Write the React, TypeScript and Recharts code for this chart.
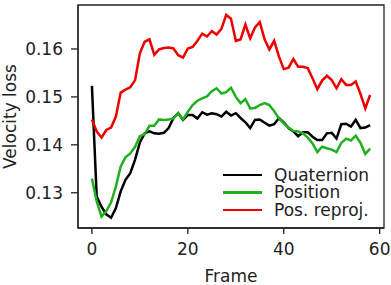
import { Line, LineChart, ReferenceArea, XAxis, YAxis } from "recharts";

const frames = Array.from({ length: 59 }, (_, i) => i);

const quaternion = [
  0.1523, 0.1292, 0.1271, 0.1255, 0.1248, 0.1268, 0.1303, 0.1327, 0.1341, 0.1369,
  0.1405, 0.1424, 0.1428, 0.1424, 0.1423, 0.1425, 0.1435, 0.1456, 0.1466, 0.1452,
  0.1462, 0.1462, 0.1455, 0.1468, 0.1463, 0.1466, 0.1464, 0.1459, 0.1469, 0.1461,
  0.1466, 0.1456, 0.1447, 0.1435, 0.1452, 0.1453, 0.1446, 0.144, 0.1443, 0.1456,
  0.1447, 0.1435, 0.1428, 0.1418, 0.1426, 0.1426, 0.1417, 0.141, 0.141, 0.1424,
  0.1425, 0.1413, 0.1443, 0.1444, 0.1438, 0.1452, 0.1435, 0.1436, 0.1441,
];

const position = [
  0.133, 0.1282, 0.125, 0.1262, 0.128, 0.1313, 0.1355, 0.1374, 0.1382, 0.1396,
  0.1418, 0.1422, 0.144, 0.144, 0.1453, 0.1452, 0.1453, 0.1455, 0.1466, 0.1453,
  0.1469, 0.1483, 0.1492, 0.1497, 0.1501, 0.1512, 0.1518, 0.1507, 0.151, 0.1519,
  0.15, 0.1487, 0.1495, 0.1476, 0.1477, 0.1483, 0.1487, 0.1483, 0.147, 0.1455,
  0.1445, 0.1436, 0.1429, 0.1428, 0.1424, 0.1415, 0.1403, 0.1385, 0.1396, 0.1393,
  0.139, 0.1385, 0.1404, 0.1413, 0.1409, 0.1419, 0.1404, 0.1381, 0.1392,
];

const posReproj = [
  0.1453, 0.1428, 0.1415, 0.1431, 0.1436, 0.1459, 0.1509, 0.1515, 0.152, 0.1535,
  0.1591, 0.1615, 0.162, 0.1588, 0.1599, 0.1602, 0.1603, 0.1601, 0.1587, 0.1582,
  0.1601, 0.1604, 0.1617, 0.1632, 0.1626, 0.1637, 0.163, 0.1642, 0.1671, 0.1663,
  0.1617, 0.162, 0.1651, 0.1622, 0.1645, 0.1656, 0.162, 0.1599, 0.1617, 0.1584,
  0.1558, 0.1561, 0.1579, 0.1563, 0.1563, 0.156, 0.1539, 0.1516, 0.1534, 0.1544,
  0.1535, 0.1518, 0.1537, 0.1525, 0.1525, 0.1532, 0.1506, 0.1476, 0.1504,
];

const xTicks = [0, 20, 40, 60];
const yTicks = [0.13, 0.14, 0.15, 0.16];
const xDomain = [-2.9, 60.9];
const yDomain = [0.12265, 0.16917];

const series = [
  { key: "quaternion", name: "Quaternion", color: "#000000" },
  { key: "position", name: "Position", color: "#1fb01f" },
  { key: "posReproj", name: "Pos. reproj.", color: "#ee0000" },
];

const data = frames.map((frame, i) => ({
  frame,
  quaternion: quaternion[i],
  position: position[i],
  posReproj: posReproj[i],
}));

const FONT = "'DejaVu Sans', sans-serif";
const TEXT = "#222";
const SPINE = "#222";

function LegendBox() {
  return (
    <div
      style={{
        position: "absolute",
        left: 223,
        top: 166,
        fontFamily: FONT,
        fontSize: 17,
        color: TEXT,
      }}
    >
      {series.map((s) => (
        <div
          key={s.key}
          style={{ display: "flex", alignItems: "center", height: 17.5, whiteSpace: "nowrap" }}
        >
          <span style={{ width: 39, height: 2.5, background: s.color, display: "inline-block" }} />
          <span style={{ marginLeft: 12, lineHeight: "16px", height: 16, display: "inline-block" }}>
            {s.name}
          </span>
        </div>
      ))}
    </div>
  );
}

export default function App() {
  return (
    <div style={{ position: "absolute", left: 0, top: 0, width: 391, height: 285, background: "#fff" }}>
      <LineChart width={391} height={285} data={data} margin={{ top: 5, right: 7, left: 0, bottom: 0 }}>
        <XAxis
          dataKey="frame"
          type="number"
          domain={xDomain}
          ticks={xTicks}
          allowDataOverflow
          height={57}
          stroke={SPINE}
          strokeWidth={1.3}
          tickSize={6}
          tickMargin={9}
          tick={{ fill: TEXT, fontSize: 17, fontFamily: FONT }}
          label={{ value: "Frame", position: "insideBottom", offset: 3.5, fill: TEXT, fontSize: 17, fontFamily: FONT }}
        />
        <YAxis
          type="number"
          domain={yDomain}
          ticks={yTicks}
          allowDataOverflow
          width={78}
          stroke={SPINE}
          strokeWidth={1.3}
          tickSize={7}
          tickMargin={8}
          tickFormatter={(v: number) => v.toFixed(2)}
          tick={{ fill: TEXT, fontSize: 17, fontFamily: FONT }}
          label={{
            content: () => (
              <text
                x={9.5}
                y={116.5}
                transform="rotate(-90 9.5 116.5)"
                textAnchor="middle"
                dominantBaseline="central"
                fill={TEXT}
                fontSize={17}
                fontFamily={FONT}
              >
                Velocity loss
              </text>
            ),
          }}
        />
        {series.map((s) => (
          <Line
            key={s.key}
            dataKey={s.key}
            name={s.name}
            stroke={s.color}
            strokeWidth={2.5}
            dot={false}
            activeDot={false}
            isAnimationActive={false}
          />
        ))}
        <ReferenceArea
          x1={xDomain[0]}
          x2={xDomain[1]}
          y1={yDomain[0]}
          y2={yDomain[1]}
          fill="none"
          stroke={SPINE}
          strokeWidth={1.3}
        />
      </LineChart>
      <LegendBox />
    </div>
  );
}
